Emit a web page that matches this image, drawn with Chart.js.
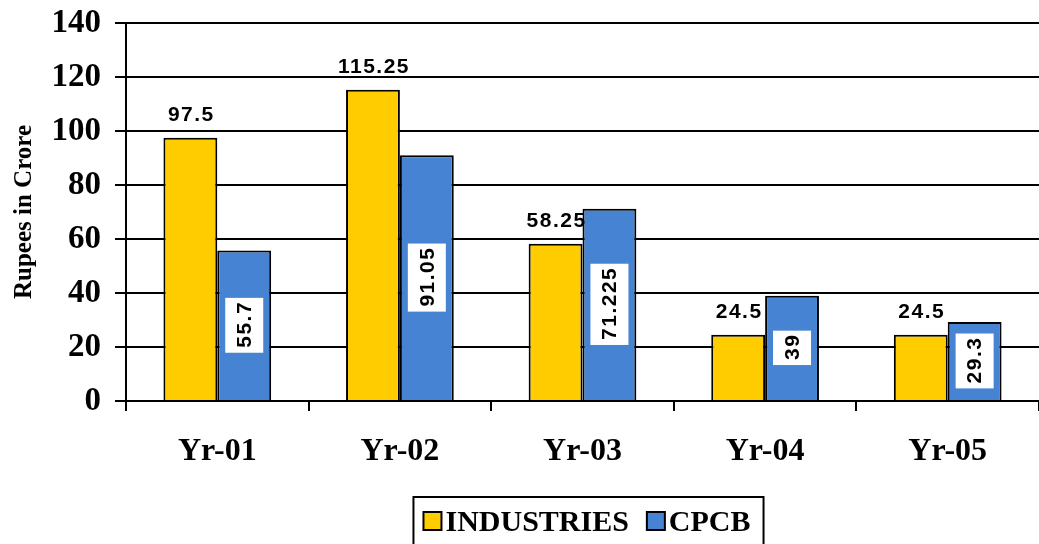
<!DOCTYPE html>
<html>
<head>
<meta charset="utf-8">
<script src="https://cdn.jsdelivr.net/npm/chart.js@4"></script>
<style>
  html, body { margin: 0; padding: 0; background: #fff; overflow: hidden; }
  #wrap { position: relative; width: 1039px; height: 544px; }
</style>
</head>
<body>
<div id="wrap"><canvas id="chart"></canvas></div>
<script>
const years = ["Yr-01", "Yr-02", "Yr-03", "Yr-04", "Yr-05"];
const industries = [97.5, 115.25, 58.25, 24.5, 24.5];
const cpcb = [55.7, 91.05, 71.225, 39, 29.3];
const yTicks = [0, 20, 40, 60, 80, 100, 120, 140];

const serif = '"Liberation Serif", "Times New Roman", serif';
const sans = '"Liberation Sans", Arial, sans-serif';

// value labels: above the yellow bars, rotated in a white box on the blue ones
const barLabels = {
  id: "barLabels",
  afterDatasetsDraw(chart) {
    const ctx = chart.ctx;
    ctx.save();
    ctx.font = "bold 21px " + sans;
    ctx.letterSpacing = "1.5px";
    ctx.textAlign = "center";
    ctx.textBaseline = "middle";
    ctx.fillStyle = "#000";
    chart.getDatasetMeta(0).data.forEach((bar, i) => {
      ctx.fillText(String(industries[i]), bar.x + 1, bar.y - 23);
    });
    chart.getDatasetMeta(1).data.forEach((bar, i) => {
      const txt = String(cpcb[i]);
      const w = ctx.measureText(txt).width;
      const cy = (bar.y + bar.base) / 2;
      ctx.save();
      ctx.translate(bar.x, cy);
      ctx.rotate(-Math.PI / 2);
      ctx.fillStyle = "#fff";
      ctx.fillRect(-(w + 8) / 2, -19, w + 8, 38);
      ctx.fillStyle = "#000";
      ctx.fillText(txt, 1, 1);
      ctx.restore();
    });
    ctx.restore();
  },
};

// legend with a frame, drawn at the bottom
const boxLegend = {
  id: "boxLegend",
  afterDraw(chart) {
    const ctx = chart.ctx;
    const items = chart.data.datasets;
    ctx.save();
    ctx.font = "bold 30px " + serif;
    const sq = 18, gap = 4, itemGap = 18, padL = 10, padR = 13;
    let total = padL + padR;
    items.forEach((d, i) => {
      total += sq + gap + ctx.measureText(d.label).width + (i ? itemGap : 0);
    });
    const ca = chart.chartArea;
    let x = (ca.left + ca.right) / 2 + 6 - total / 2;
    const top = chart.height - 47;
    const midY = top + 24;
    ctx.strokeStyle = "#000";
    ctx.lineWidth = 2;
    ctx.strokeRect(x, top, total, 52);
    x += padL;
    ctx.textBaseline = "alphabetic";
    items.forEach((d, i) => {
      if (i) x += itemGap;
      ctx.fillStyle = d.backgroundColor;
      ctx.fillRect(x, midY - sq / 2, sq, sq);
      ctx.strokeRect(x, midY - sq / 2, sq, sq);
      x += sq + gap;
      ctx.fillStyle = "#000";
      ctx.fillText(d.label, x, midY + 10);
      x += ctx.measureText(d.label).width;
    });
    ctx.restore();
  },
};

new Chart(document.getElementById("chart"), {
  type: "bar",
  data: {
    labels: years,
    datasets: [
      {
        label: "INDUSTRIES",
        data: industries,
        backgroundColor: "#FFCC00",
        borderColor: "#000",
        borderWidth: 2,
      },
      {
        label: "CPCB",
        data: cpcb,
        backgroundColor: "#4684D3",
        borderColor: "#000",
        borderWidth: 2,
      },
    ],
  },
  options: {
    responsive: true,
    maintainAspectRatio: false,
    animation: false,
    categoryPercentage: 0.59,
    barPercentage: 1,
    layout: {
      padding: { top: 23, right: 0, bottom: 46, left: 0 },
    },
    plugins: {
      legend: { display: false },
      tooltip: { enabled: false },
    },
    scales: {
      x: {
        grid: {
          drawOnChartArea: false,
          drawTicks: true,
          tickLength: 10,
          color: "#000",
          lineWidth: 2,
          offset: true,
        },
        border: { color: "#000", width: 2 },
        ticks: {
          color: "#000",
          font: { family: serif, size: 32, weight: "bold" },
          padding: 22,
        },
        afterFit(scale) {
          scale.height = 97;
        },
      },
      y: {
        min: 0,
        max: 140,
        afterBuildTicks(scale) {
          scale.ticks = yTicks.map((v) => ({ value: v }));
        },
        ticks: {
          color: "#000",
          font: { family: serif, size: 33, weight: "bold" },
          padding: 14,
        },
        grid: { color: "#000", lineWidth: 2, tickLength: 11 },
        border: { color: "#000", width: 2 },
        title: {
          display: true,
          text: "Rupees in Crore",
          color: "#000",
          font: { family: serif, size: 25, weight: "bold" },
          padding: { top: 10, bottom: 0 },
        },
        afterFit(scale) {
          scale.width = 126;
          scale.paddingTop = 0;
          scale.paddingBottom = 0;
        },
      },
    },
  },
  plugins: [barLabels, boxLegend],
});
</script>
</body>
</html>
